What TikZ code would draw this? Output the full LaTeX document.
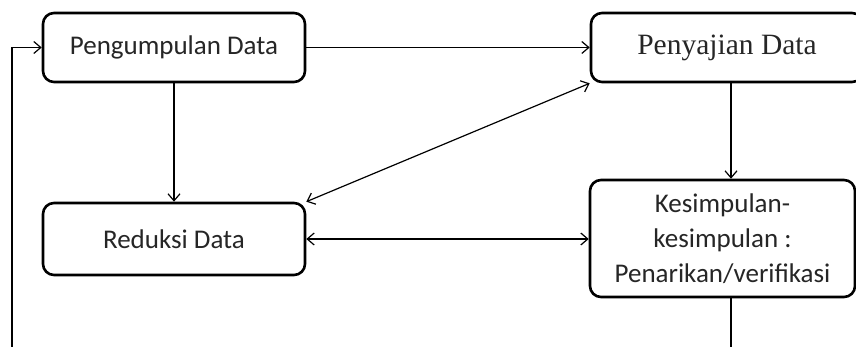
\documentclass[tikz,border=0pt]{standalone}
\usepackage{fontspec}
\setmainfont{Carlito}
\newfontfamily\timesfont{Liberation Serif}
\usetikzlibrary{arrows.meta}
\begin{document}
\begin{tikzpicture}[x=1pt,y=-1pt,
 box/.style={draw, line width=2.6pt, rounded corners=11pt, align=center, text=black!85, inner sep=0pt, font=\fontsize{27}{35}\selectfont},
 arr/.style={line width=1.2pt, -{Straight Barb[length=7pt,width=12pt]}},
 darr/.style={line width=1.2pt, {Straight Barb[length=7pt,width=12pt]}-{Straight Barb[length=7pt,width=12pt]}},
 plain/.style={line width=1.2pt}]
\useasboundingbox (0,0) rectangle (856,347);
\clip (0,0) rectangle (856,347);
\fill[white] (0,0) rectangle (856,347);
\node[box, minimum width=262pt, minimum height=69pt] (peng) at (174,47.5) {Pengumpulan Data};
\node[box, minimum width=272pt, minimum height=69pt, font=\timesfont\fontsize{29.5}{36}\selectfont] (pen) at (727,47.5) {Penyajian Data};
\node[box, minimum width=262pt, minimum height=72pt] (red) at (174,239) {Reduksi Data};
\node[box, minimum width=265pt, minimum height=117pt] (kes) at (722.5,238.5) {Kesimpulan-\\kesimpulan :\\Penarikan/verifikasi};
\coordinate (kx) at (731,0);
\coordinate (bl) at (12,352);
\coordinate (br) at (731,352);
\draw[arr] (peng.east) -- (peng.east -| pen.west);
\draw[arr] (peng.south) -- (red.north);
\draw[arr] (pen.south -| kx) -- (kes.north -| kx);
\draw[darr] (red.north east) -- (pen.south west);
\draw[darr] (red.east) -- (red.east -| kes.west);
\draw[plain] (kes.south -| kx) -- (br);
\draw[arr] (bl) |- (peng.west);
\end{tikzpicture}
\end{document}
